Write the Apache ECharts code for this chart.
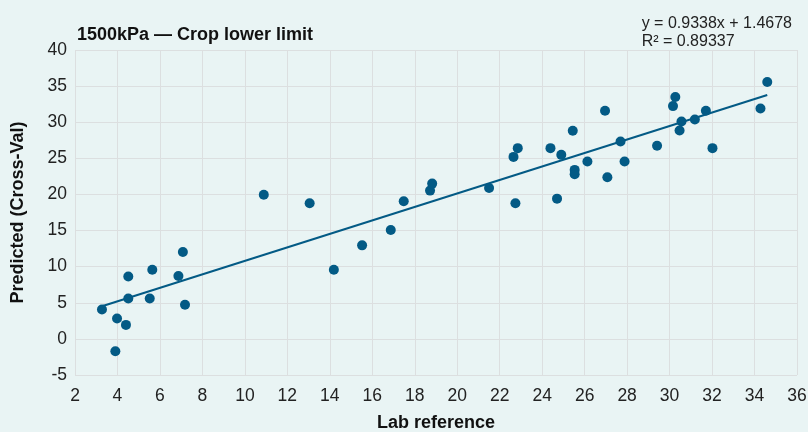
<!DOCTYPE html>
<html><head><meta charset="utf-8">
<script src="https://cdn.jsdelivr.net/npm/echarts@6/dist/echarts.min.js"></script>
<style>html,body{margin:0;padding:0;background:#e9f4f4;}#c{width:808px;height:432px;}</style>
</head><body><div id="c"></div>
<script>
const labRef = [3.27,3.98,4.40,3.90,4.51,4.51,5.64,5.52,6.87,7.08,7.18,
  10.89,13.05,14.19,15.52,16.87,17.48,18.72,18.82,21.50,22.74,
  22.65,22.85,24.39,24.90,25.44,25.53,25.53,24.70,26.13,26.96,27.07,27.69,27.88,29.41,
  30.16,30.27,30.56,30.47,31.19,31.71,32.02,34.28,34.60];
const predicted = [4.08,2.83,1.94,-1.71,8.65,5.60,9.57,5.60,8.70,12.02,4.72,
  19.97,18.78,9.57,12.95,15.08,19.06,20.53,21.50,20.90,18.78,
  25.20,26.41,26.41,25.48,28.81,23.40,22.80,19.42,24.55,31.58,22.38,27.32,24.55,26.73,
  32.23,33.48,30.10,28.85,30.38,31.58,26.41,31.90,35.56];
const slope = 0.9338, intercept = 1.4678, r2 = '0.89337';
const xTicks = [2,36,2];
const yTicks = [-5,40,5];
const title = '1500kPa \u2014 Crop lower limit';

const pts = labRef.map((x,i)=>[x,predicted[i]]);
const xmin = Math.min(...labRef), xmax = Math.max(...labRef);
const trend = [[xmin, slope*xmin+intercept],[xmax, slope*xmax+intercept]];
const font = '"Liberation Sans", Arial, sans-serif';
const chart = echarts.init(document.getElementById('c'));
chart.setOption({
  backgroundColor:'#e9f4f4',
  animation:false,
  grid:{left:75,right:11,top:50,bottom:57,containLabel:false,outerBoundsMode:'none'},
  title:[
    {text:title,left:72,top:21,textStyle:{fontFamily:font,fontSize:18,fontWeight:'bold',color:'#111'}},
    {text:'y = '+slope+'x + '+intercept+'\nR\u00b2 = '+r2,right:11,top:10,
     textStyle:{fontFamily:font,fontSize:16,fontWeight:'normal',color:'#222',lineHeight:18}}
  ],
  xAxis:{type:'value',min:xTicks[0],max:xTicks[1],interval:xTicks[2],
    name:'Lab reference',nameLocation:'middle',nameGap:39,
    nameTextStyle:{fontFamily:font,fontSize:18,fontWeight:'bold',color:'#111'},
    axisLine:{show:false},axisTick:{show:false},
    axisLabel:{fontFamily:font,fontSize:17.5,color:'#222',margin:12},
    splitLine:{show:true,lineStyle:{color:'#dcdfe0',width:1}}},
  yAxis:{type:'value',min:yTicks[0],max:yTicks[1],interval:yTicks[2],
    name:'Predicted (Cross-Val)',nameLocation:'middle',nameGap:48,
    nameTextStyle:{fontFamily:font,fontSize:18,fontWeight:'bold',color:'#111'},
    axisLine:{show:false},axisTick:{show:false},
    axisLabel:{fontFamily:font,fontSize:17.5,color:'#222',margin:8},
    splitLine:{show:true,lineStyle:{color:'#dcdfe0',width:1}}},
  series:[
    {type:'line',data:trend,symbol:'none',lineStyle:{color:'#035a85',width:2},z:2},
    {type:'scatter',data:pts,symbolSize:10,itemStyle:{color:'#035a85',opacity:1},z:3}
  ]
});
</script></body></html>
